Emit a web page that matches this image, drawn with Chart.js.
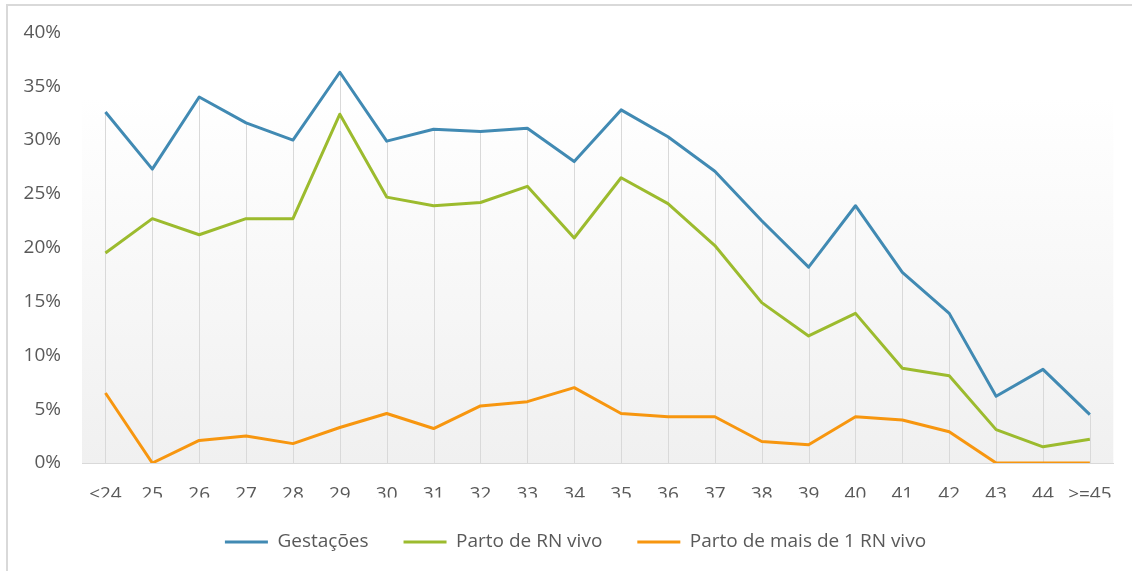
<!DOCTYPE html>
<html>
<head>
<meta charset="utf-8">
<script src="https://cdn.jsdelivr.net/npm/chart.js@4.4.1/dist/chart.umd.min.js"></script>
<style>
  html, body { margin: 0; padding: 0; background: #fff; overflow: hidden; }
  #frame {
    position: absolute; left: 6px; top: 4px;
    width: 1200px; height: 700px;
    border: 2px solid #d9d9d9;
    pointer-events: none;
  }
  canvas { position: absolute; left: 0; top: 0; }
</style>
</head>
<body>
<canvas id="chart" width="1132" height="571"></canvas>
<div id="frame"></div>
<script>
// Idades (categorias)
const idades = ['<24', '25', '26', '27', '28', '29', '30', '31', '32', '33', '34',
  '35', '36', '37', '38', '39', '40', '41', '42', '43', '44', '>=45']

// Valores em %
const gestacoes = [32.6, 27.3, 34.0, 31.6, 30.0, 36.3, 29.9, 31.0, 30.8, 31.1, 28.0,
  32.8, 30.3, 27.1, 22.5, 18.2, 23.9, 17.7, 13.9, 6.2, 8.7, 4.5]
const partoRnVivo = [19.5, 22.7, 21.2, 22.7, 22.7, 32.4, 24.7, 23.9, 24.2, 25.7, 20.9,
  26.5, 24.1, 20.2, 14.9, 11.8, 13.9, 8.8, 8.1, 3.1, 1.5, 2.2]
const partoMaisDe1 = [6.5, 0, 2.1, 2.5, 1.8, 3.3, 4.6, 3.2, 5.3, 5.7, 7.0,
  4.6, 4.3, 4.3, 2.0, 1.7, 4.3, 4.0, 2.9, 0, 0, 0]

const yTicks = [0, 5, 10, 15, 20, 25, 30, 35, 40]

const textColor = '#595959'
const fontFamily = "'Open Sans', sans-serif"

// fundo em degradê da área do gráfico
const plotBackground = {
  id: 'plotBackground',
  beforeDraw(chart) {
    const { ctx, chartArea } = chart
    const grad = ctx.createLinearGradient(0, chartArea.top, 0, chartArea.bottom)
    grad.addColorStop(0, '#ffffff')
    grad.addColorStop(0.15, '#ffffff')
    grad.addColorStop(1, '#f0f0f0')
    ctx.save()
    ctx.fillStyle = grad
    ctx.fillRect(chartArea.left, chartArea.top, chartArea.right - chartArea.left, chartArea.bottom - chartArea.top)
    ctx.restore()
  }
}

// linhas verticais do ponto de Gestações até o eixo
const dropLines = {
  id: 'dropLines',
  beforeDatasetsDraw(chart) {
    const { ctx } = chart
    const meta = chart.getDatasetMeta(0)
    const bottom = chart.scales.y.getPixelForValue(0)
    ctx.save()
    ctx.strokeStyle = '#d9d9d9'
    ctx.lineWidth = 1
    meta.data.forEach(p => {
      const x = Math.round(p.x) + 0.5
      ctx.beginPath()
      ctx.moveTo(x, p.y)
      ctx.lineTo(x, bottom)
      ctx.stroke()
    })
    ctx.restore()
  }
}

// altura fixa da legenda e deslocamento para a direita
const legendPlacement = {
  id: 'legendPlacement',
  beforeInit(chart) {
    const origFit = chart.legend.fit
    chart.legend.fit = function () {
      origFit.bind(chart.legend)()
      this.height = 73.5
    }
  },
  afterLayout(chart) {
    chart.legend.left += 18.5
    chart.legend.right += 18.5
  }
}

new Chart(document.getElementById('chart'), {
  type: 'line',
  data: {
    labels: idades,
    datasets: [
      {
        label: 'Gestações',
        data: gestacoes,
        borderColor: '#418ab3',
        backgroundColor: '#418ab3'
      },
      {
        label: 'Parto de RN vivo',
        data: partoRnVivo,
        borderColor: '#9cbb2e',
        backgroundColor: '#9cbb2e'
      },
      {
        label: 'Parto de mais de 1 RN vivo',
        data: partoMaisDe1,
        borderColor: '#f7960f',
        backgroundColor: '#f7960f'
      }
    ]
  },
  options: {
    responsive: false,
    animation: false,
    layout: {
      padding: { left: 0, right: 18, top: 29, bottom: 0 }
    },
    elements: {
      line: { borderWidth: 3, tension: 0, borderJoinStyle: 'round', fill: false },
      point: { radius: 0, hoverRadius: 0 }
    },
    plugins: {
      tooltip: { enabled: false },
      legend: {
        position: 'bottom',
        labels: {
          color: textColor,
          font: { family: fontFamily, size: 19 },
          boxWidth: 43,
          boxHeight: 3,
          padding: 35,
          generateLabels: chart =>
            Chart.defaults.plugins.legend.labels.generateLabels(chart).map(l => ({ ...l, lineWidth: 0, fillStyle: l.strokeStyle }))
        }
      }
    },
    scales: {
      x: {
        offset: true,
        grid: { display: false, drawTicks: false },
        border: { display: true, color: '#d9d9d9', width: 1 },
        ticks: {
          color: textColor,
          font: { family: fontFamily, size: 19 },
          padding: 20,
          maxRotation: 0,
          autoSkip: false
        },
        afterFit(scale) { scale.height = 34.5 }
      },
      y: {
        min: 0,
        max: 40,
        grid: { display: false, drawTicks: false },
        border: { display: false },
        afterBuildTicks(scale) { scale.ticks = yTicks.map(v => ({ value: v })) },
        ticks: {
          color: textColor,
          font: { family: fontFamily, size: 19 },
          padding: 21,
          callback: v => v + '%'
        },
        afterFit(scale) { scale.width = 82 }
      }
    }
  },
  plugins: [plotBackground, dropLines, legendPlacement]
})
</script>
</body>
</html>
